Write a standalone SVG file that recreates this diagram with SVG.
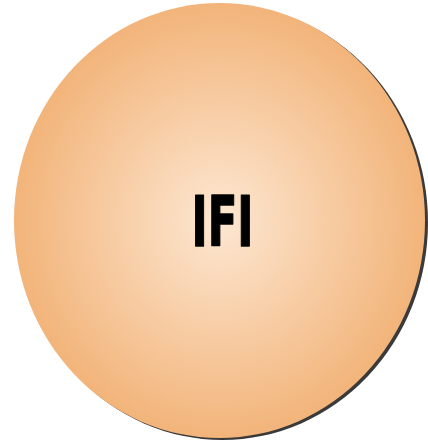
<svg xmlns="http://www.w3.org/2000/svg" width="428" height="446" viewBox="0 0 428 446">
  <defs>
    <radialGradient id="fillGrad" cx="0.5" cy="0.5" r="0.5">
      <stop offset="0" stop-color="#fde7d2"/>
      <stop offset="1" stop-color="#f2b47a"/>
    </radialGradient>
    <style>
      .label { font-family: "DejaVu Sans", "Liberation Sans", sans-serif; font-weight: bold; font-size: 70px; fill: #000; stroke: #000; stroke-width: 1.5; stroke-linejoin: round; }
    </style>
  </defs>
  <rect width="428" height="446" fill="#ffffff"/>
  <g id="node-ifi">
    <ellipse cx="222.5" cy="222.5" rx="205.5" ry="217.5" fill="#3a3a3a"/>
    <ellipse cx="219.5" cy="220.5" rx="205.5" ry="217.5" fill="url(#fillGrad)"/>
    <text class="label" x="222.5" y="245.5" text-anchor="middle" textLength="62" lengthAdjust="spacingAndGlyphs">IFI</text>
  </g>
  <g id="connectors"></g>
</svg>
